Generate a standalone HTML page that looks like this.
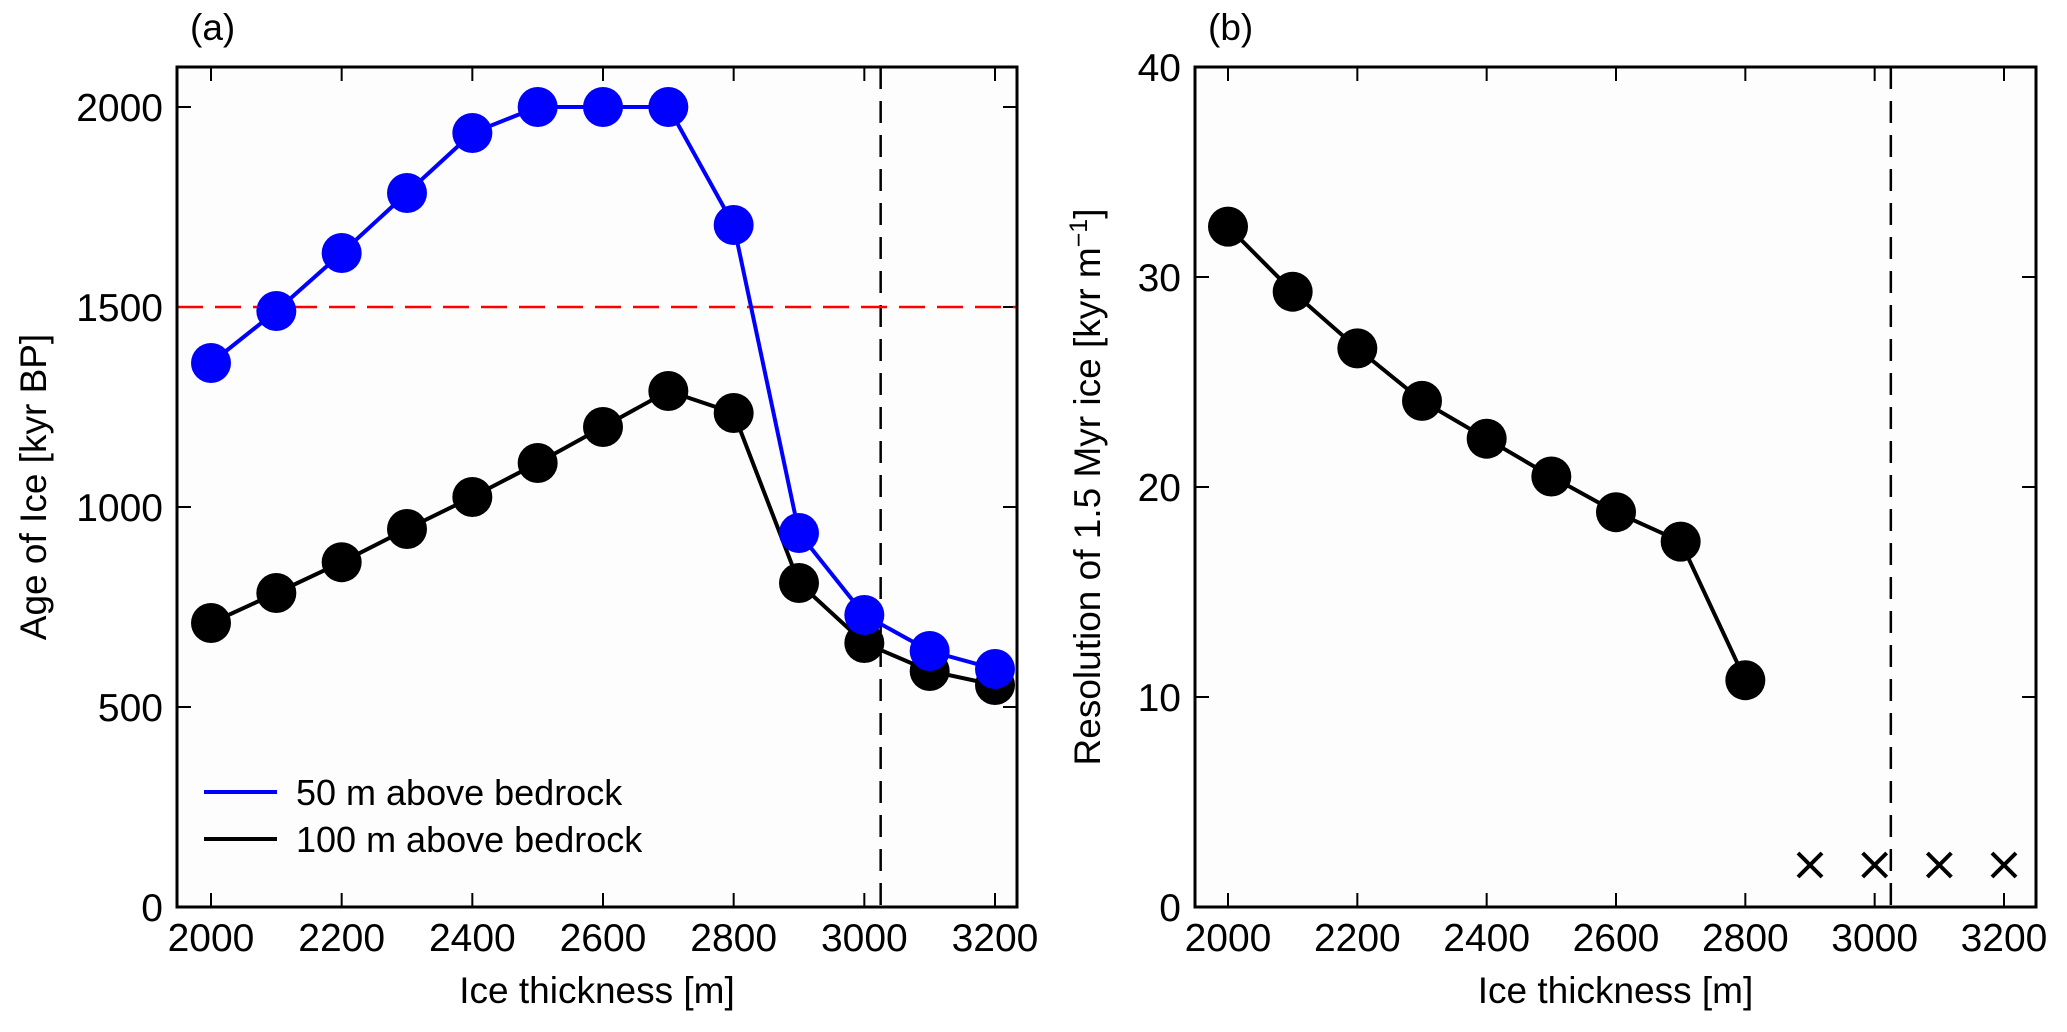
<!DOCTYPE html>
<html><head><meta charset="utf-8"><style>
html,body{margin:0;padding:0;background:#fff;}
svg text{font-family:"Liberation Sans",Arial,sans-serif;fill:#000;}
</style></head><body>
<svg id="chart" width="2067" height="1027" viewBox="0 0 2067 1027" xmlns="http://www.w3.org/2000/svg"></svg>
<script>
const thickness=[2000,2100,2200,2300,2400,2500,2600,2700,2800,2900,3000,3100,3200];
const age50=[1360,1490,1635,1785,1935,2000,2000,2000,1705,935,730,640,595];
const age100=[710,785,862,945,1025,1110,1200,1290,1235,810,660,590,555];
const resThick=[2000,2100,2200,2300,2400,2500,2600,2700,2800];
const resVals=[32.4,29.3,26.6,24.1,22.3,20.5,18.8,17.4,10.8];
const crossThick=[2900,3000,3100,3200];
const crossVals=[2,2,2,2];
const xTicks=[2000,2200,2400,2600,2800,3000,3200];
const yTicksA=[0,500,1000,1500,2000];
const yTicksB=[0,10,20,30,40];
const dashX=3025;
const refAge=1500;

const svg=document.getElementById('chart');
const NS='http://www.w3.org/2000/svg';
function mk(tag,attrs,parent){const e=document.createElementNS(NS,tag);for(const k in attrs)e.setAttribute(k,attrs[k]);(parent||svg).appendChild(e);return e;}

function panel(o){
  const g=mk('g',{});
  
  
  const sx=v=>o.x0+(v-2000)/1200*(o.x1-o.x0);
  const sy=v=>o.bottom-(v-o.ymin)/(o.ymax-o.ymin)*(o.bottom-o.yTop);
  const bg=mk('rect',{x:o.left,y:o.top,width:o.right-o.left,height:o.bottom-o.top,fill:'#fdfdfd',stroke:'none'},g);
  
  
  xTicks.forEach(t=>{
    const x=sx(t);
    mk('line',{x1:x,y1:o.bottom,x2:x,y2:o.bottom-14,stroke:'#000','stroke-width':2},g);
    mk('line',{x1:x,y1:o.top,x2:x,y2:o.top+14,stroke:'#000','stroke-width':2},g);
    const tl=mk('text',{x:x,y:951,'font-size':39,'text-anchor':'middle'},g);tl.textContent=t;
    
    
  });
  o.yTicks.forEach(t=>{
    const y=sy(t);
    mk('line',{x1:o.left,y1:y,x2:o.left+14,y2:y,stroke:'#000','stroke-width':2},g);
    mk('line',{x1:o.right,y1:y,x2:o.right-14,y2:y,stroke:'#000','stroke-width':2},g);
    const tl=mk('text',{x:o.left-14,y:y+14,'font-size':39,'text-anchor':'end'},g);tl.textContent=t;
    
    
  });
  const dv=mk('line',{x1:sx(dashX),y1:o.top,x2:sx(dashX),y2:o.bottom,stroke:'#000','stroke-width':2.5,'stroke-dasharray':'22,12'},g);
  
  
  o.draw(g,sx,sy);
  const frame=mk('rect',{x:o.left,y:o.top,width:o.right-o.left,height:o.bottom-o.top,fill:'none',stroke:'#000','stroke-width':3},g);
  
  
  const xt=mk('text',{x:(o.left+o.right)/2,y:1003,'font-size':37,'text-anchor':'middle'},g);xt.textContent='Ice thickness [m]';
  
  
  const yt=mk('text',{x:0,y:0,'font-size':37,'text-anchor':'middle',transform:`translate(${o.ytx},${(o.top+o.bottom)/2}) rotate(-90)`},g);
  yt.innerHTML=o.ytitle;
  
  
  const pl=mk('text',{x:o.left+13,y:40,'font-size':37},g);pl.textContent=o.label;
  
  
}

function series(g,sx,sy,xs,ys,color,name){
  const sg=mk('g',{},g);
  
  
  mk('polyline',{points:xs.map((x,i)=>sx(x)+','+sy(ys[i])).join(' '),fill:'none',stroke:color,'stroke-width':4},sg);
  xs.forEach((x,i)=>{
    const c=mk('circle',{cx:sx(x),cy:sy(ys[i]),r:20,fill:color},sg);
    
    
  });
}

panel({name:'panel-a',left:177,right:1017,top:67,bottom:907,x0:211,x1:995,yTop:107,ymin:0,ymax:2000,yTicks:yTicksA,ytx:46,
  ytitle:'Age of Ice [kyr BP]',label:'(a)',
  draw:(g,sx,sy)=>{
    const rl=mk('line',{x1:177,y1:sy(refAge),x2:1017,y2:sy(refAge),stroke:'#ff0000','stroke-width':2.5,'stroke-dasharray':'26,12'},g);
    
    
    series(g,sx,sy,thickness,age100,'#000000','series-100m');
    series(g,sx,sy,thickness,age50,'#0000ff','series-50m');
    const lg=mk('g',{},g);
    
    
    mk('line',{x1:204,y1:792,x2:277,y2:792,stroke:'#0000ff','stroke-width':4},lg);
    const t1=mk('text',{x:296,y:805,'font-size':36},lg);t1.textContent='50 m above bedrock';
    
    
    mk('line',{x1:204,y1:839,x2:277,y2:839,stroke:'#000','stroke-width':4},lg);
    const t2=mk('text',{x:296,y:852,'font-size':36},lg);t2.textContent='100 m above bedrock';
    
    
  }});

panel({name:'panel-b',left:1195,right:2036,top:67,bottom:907,x0:1228,x1:2004,yTop:67,ymin:0,ymax:40,yTicks:yTicksB,ytx:1100,
  ytitle:'Resolution of 1.5 Myr ice [kyr m<tspan dy="-13" font-size="25">−1</tspan><tspan dy="13">]</tspan>',label:'(b)',
  draw:(g,sx,sy)=>{
    series(g,sx,sy,resThick,resVals,'#000000','series-resolution');
    crossThick.forEach((x,i)=>{
      const cx=sx(x),cy=sy(crossVals[i]);
      const cg=mk('g',{},g);
      
      
      mk('path',{d:`M${cx-12},${cy-12}L${cx+12},${cy+12}M${cx-12},${cy+12}L${cx+12},${cy-12}`,stroke:'#000','stroke-width':4},cg);
    });
  }});
</script>
</body></html>
